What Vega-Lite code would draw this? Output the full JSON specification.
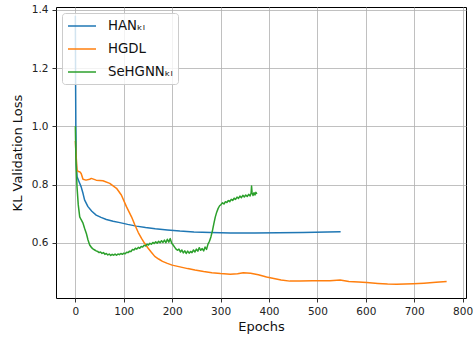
{
  "$schema": "https://vega.github.io/schema/vega-lite/v6.json",
  "width": 410,
  "height": 291,
  "autosize": {"type": "none"},
  "padding": {"left": 56, "top": 7, "right": 7, "bottom": 41},
  "config": {
    "font": "DejaVu Sans",
    "view": {"stroke": "#000000", "strokeWidth": 1},
    "axis": {
      "domain": false,
      "grid": true,
      "gridColor": "#b0b0b0",
      "gridWidth": 0.8,
      "tickColor": "#000000",
      "tickSize": 4,
      "tickWidth": 0.8,
      "labelColor": "#222222",
      "labelFontSize": 10.5,
      "labelPadding": 4,
      "titleColor": "#111111",
      "titleFontSize": 13,
      "titleFontWeight": "normal"
    },
    "legend": {
      "orient": "top-left",
      "offset": 6,
      "padding": 5,
      "fillColor": "rgba(255,255,255,0.8)",
      "strokeColor": "#cccccc",
      "cornerRadius": 3,
      "labelFontSize": 13.3,
      "labelColor": "#111111",
      "symbolType": "M-1,0H3",
      "symbolStrokeWidth": 1.5,
      "symbolSize": 196,
      "labelOffset": 25,
      "rowPadding": 8,
      "title": null
    }
  },
  "data": {
    "values": [
      {"series": "HAN_KL", "epoch": 0, "loss": 1.38},
      {"series": "HAN_KL", "epoch": 0.5, "loss": 1.15},
      {"series": "HAN_KL", "epoch": 1, "loss": 1.0},
      {"series": "HAN_KL", "epoch": 2, "loss": 0.87},
      {"series": "HAN_KL", "epoch": 3.4, "loss": 0.827},
      {"series": "HAN_KL", "epoch": 7, "loss": 0.812},
      {"series": "HAN_KL", "epoch": 12, "loss": 0.792},
      {"series": "HAN_KL", "epoch": 16, "loss": 0.768},
      {"series": "HAN_KL", "epoch": 19, "loss": 0.747},
      {"series": "HAN_KL", "epoch": 26, "loss": 0.724},
      {"series": "HAN_KL", "epoch": 34, "loss": 0.708},
      {"series": "HAN_KL", "epoch": 43, "loss": 0.695},
      {"series": "HAN_KL", "epoch": 53, "loss": 0.687},
      {"series": "HAN_KL", "epoch": 64, "loss": 0.68},
      {"series": "HAN_KL", "epoch": 78, "loss": 0.674},
      {"series": "HAN_KL", "epoch": 92, "loss": 0.669},
      {"series": "HAN_KL", "epoch": 108, "loss": 0.663},
      {"series": "HAN_KL", "epoch": 126, "loss": 0.657},
      {"series": "HAN_KL", "epoch": 145, "loss": 0.652},
      {"series": "HAN_KL", "epoch": 165, "loss": 0.648},
      {"series": "HAN_KL", "epoch": 190, "loss": 0.644},
      {"series": "HAN_KL", "epoch": 216, "loss": 0.640},
      {"series": "HAN_KL", "epoch": 245, "loss": 0.637},
      {"series": "HAN_KL", "epoch": 280, "loss": 0.635},
      {"series": "HAN_KL", "epoch": 320, "loss": 0.633},
      {"series": "HAN_KL", "epoch": 370, "loss": 0.633},
      {"series": "HAN_KL", "epoch": 420, "loss": 0.634},
      {"series": "HAN_KL", "epoch": 470, "loss": 0.635},
      {"series": "HAN_KL", "epoch": 520, "loss": 0.637},
      {"series": "HAN_KL", "epoch": 548, "loss": 0.638},

      {"series": "HGDL", "epoch": 0, "loss": 0.95},
      {"series": "HGDL", "epoch": 1.5, "loss": 0.9},
      {"series": "HGDL", "epoch": 3.4, "loss": 0.85},
      {"series": "HGDL", "epoch": 6, "loss": 0.845},
      {"series": "HGDL", "epoch": 9, "loss": 0.844},
      {"series": "HGDL", "epoch": 12, "loss": 0.838},
      {"series": "HGDL", "epoch": 15.8, "loss": 0.818},
      {"series": "HGDL", "epoch": 22, "loss": 0.815},
      {"series": "HGDL", "epoch": 29.6, "loss": 0.818},
      {"series": "HGDL", "epoch": 33, "loss": 0.821},
      {"series": "HGDL", "epoch": 43, "loss": 0.815},
      {"series": "HGDL", "epoch": 57, "loss": 0.813},
      {"series": "HGDL", "epoch": 71, "loss": 0.804},
      {"series": "HGDL", "epoch": 85, "loss": 0.787},
      {"series": "HGDL", "epoch": 95, "loss": 0.764},
      {"series": "HGDL", "epoch": 105.5, "loss": 0.724},
      {"series": "HGDL", "epoch": 116, "loss": 0.689},
      {"series": "HGDL", "epoch": 123, "loss": 0.661},
      {"series": "HGDL", "epoch": 130, "loss": 0.635},
      {"series": "HGDL", "epoch": 137, "loss": 0.614},
      {"series": "HGDL", "epoch": 143, "loss": 0.598},
      {"series": "HGDL", "epoch": 150, "loss": 0.582},
      {"series": "HGDL", "epoch": 157, "loss": 0.567},
      {"series": "HGDL", "epoch": 164, "loss": 0.553},
      {"series": "HGDL", "epoch": 172, "loss": 0.544},
      {"series": "HGDL", "epoch": 180, "loss": 0.536},
      {"series": "HGDL", "epoch": 190, "loss": 0.529},
      {"series": "HGDL", "epoch": 200, "loss": 0.523},
      {"series": "HGDL", "epoch": 216, "loss": 0.517},
      {"series": "HGDL", "epoch": 232, "loss": 0.511},
      {"series": "HGDL", "epoch": 247, "loss": 0.506},
      {"series": "HGDL", "epoch": 265, "loss": 0.501},
      {"series": "HGDL", "epoch": 282, "loss": 0.497},
      {"series": "HGDL", "epoch": 300, "loss": 0.494},
      {"series": "HGDL", "epoch": 320, "loss": 0.492},
      {"series": "HGDL", "epoch": 335, "loss": 0.493},
      {"series": "HGDL", "epoch": 347, "loss": 0.497},
      {"series": "HGDL", "epoch": 362, "loss": 0.495},
      {"series": "HGDL", "epoch": 378, "loss": 0.49},
      {"series": "HGDL", "epoch": 395, "loss": 0.482},
      {"series": "HGDL", "epoch": 410, "loss": 0.477},
      {"series": "HGDL", "epoch": 425, "loss": 0.472},
      {"series": "HGDL", "epoch": 443, "loss": 0.468},
      {"series": "HGDL", "epoch": 464, "loss": 0.468},
      {"series": "HGDL", "epoch": 490, "loss": 0.469},
      {"series": "HGDL", "epoch": 526, "loss": 0.469},
      {"series": "HGDL", "epoch": 547, "loss": 0.472},
      {"series": "HGDL", "epoch": 565, "loss": 0.467},
      {"series": "HGDL", "epoch": 585, "loss": 0.465},
      {"series": "HGDL", "epoch": 602, "loss": 0.463},
      {"series": "HGDL", "epoch": 625, "loss": 0.460},
      {"series": "HGDL", "epoch": 645, "loss": 0.458},
      {"series": "HGDL", "epoch": 664, "loss": 0.457},
      {"series": "HGDL", "epoch": 698, "loss": 0.459},
      {"series": "HGDL", "epoch": 720, "loss": 0.461},
      {"series": "HGDL", "epoch": 745, "loss": 0.464},
      {"series": "HGDL", "epoch": 767, "loss": 0.467},

      {"series": "SeHGNN_KL", "epoch": 0, "loss": 1.0},
      {"series": "SeHGNN_KL", "epoch": 0.5, "loss": 0.95},
      {"series": "SeHGNN_KL", "epoch": 1, "loss": 0.9},
      {"series": "SeHGNN_KL", "epoch": 2, "loss": 0.85},
      {"series": "SeHGNN_KL", "epoch": 3.4, "loss": 0.792},
      {"series": "SeHGNN_KL", "epoch": 6, "loss": 0.73},
      {"series": "SeHGNN_KL", "epoch": 9, "loss": 0.689},
      {"series": "SeHGNN_KL", "epoch": 12, "loss": 0.679},
      {"series": "SeHGNN_KL", "epoch": 15.8, "loss": 0.667},
      {"series": "SeHGNN_KL", "epoch": 19, "loss": 0.65},
      {"series": "SeHGNN_KL", "epoch": 22.7, "loss": 0.632},
      {"series": "SeHGNN_KL", "epoch": 26, "loss": 0.61},
      {"series": "SeHGNN_KL", "epoch": 29.6, "loss": 0.592},
      {"series": "SeHGNN_KL", "epoch": 34, "loss": 0.582},
      {"series": "SeHGNN_KL", "epoch": 37, "loss": 0.578},
      {"series": "SeHGNN_KL", "epoch": 40, "loss": 0.575},
      {"series": "SeHGNN_KL", "epoch": 43, "loss": 0.572},
      {"series": "SeHGNN_KL", "epoch": 46, "loss": 0.57},
      {"series": "SeHGNN_KL", "epoch": 49, "loss": 0.566},
      {"series": "SeHGNN_KL", "epoch": 52, "loss": 0.568},
      {"series": "SeHGNN_KL", "epoch": 55, "loss": 0.563},
      {"series": "SeHGNN_KL", "epoch": 58, "loss": 0.566},
      {"series": "SeHGNN_KL", "epoch": 61, "loss": 0.56},
      {"series": "SeHGNN_KL", "epoch": 64, "loss": 0.563},
      {"series": "SeHGNN_KL", "epoch": 67, "loss": 0.558},
      {"series": "SeHGNN_KL", "epoch": 70, "loss": 0.561},
      {"series": "SeHGNN_KL", "epoch": 73, "loss": 0.556},
      {"series": "SeHGNN_KL", "epoch": 76, "loss": 0.56},
      {"series": "SeHGNN_KL", "epoch": 79, "loss": 0.557},
      {"series": "SeHGNN_KL", "epoch": 82, "loss": 0.561},
      {"series": "SeHGNN_KL", "epoch": 85, "loss": 0.557},
      {"series": "SeHGNN_KL", "epoch": 88, "loss": 0.561},
      {"series": "SeHGNN_KL", "epoch": 91, "loss": 0.559},
      {"series": "SeHGNN_KL", "epoch": 94, "loss": 0.563},
      {"series": "SeHGNN_KL", "epoch": 97, "loss": 0.56},
      {"series": "SeHGNN_KL", "epoch": 100, "loss": 0.564},
      {"series": "SeHGNN_KL", "epoch": 103, "loss": 0.562},
      {"series": "SeHGNN_KL", "epoch": 106, "loss": 0.567},
      {"series": "SeHGNN_KL", "epoch": 109, "loss": 0.566},
      {"series": "SeHGNN_KL", "epoch": 112, "loss": 0.571},
      {"series": "SeHGNN_KL", "epoch": 115, "loss": 0.57},
      {"series": "SeHGNN_KL", "epoch": 118, "loss": 0.577},
      {"series": "SeHGNN_KL", "epoch": 121, "loss": 0.575},
      {"series": "SeHGNN_KL", "epoch": 124, "loss": 0.581},
      {"series": "SeHGNN_KL", "epoch": 127, "loss": 0.578},
      {"series": "SeHGNN_KL", "epoch": 130, "loss": 0.584},
      {"series": "SeHGNN_KL", "epoch": 133, "loss": 0.581},
      {"series": "SeHGNN_KL", "epoch": 136, "loss": 0.587},
      {"series": "SeHGNN_KL", "epoch": 139, "loss": 0.585},
      {"series": "SeHGNN_KL", "epoch": 142, "loss": 0.591},
      {"series": "SeHGNN_KL", "epoch": 145, "loss": 0.589},
      {"series": "SeHGNN_KL", "epoch": 148, "loss": 0.595},
      {"series": "SeHGNN_KL", "epoch": 151, "loss": 0.592},
      {"series": "SeHGNN_KL", "epoch": 154, "loss": 0.598},
      {"series": "SeHGNN_KL", "epoch": 157, "loss": 0.595},
      {"series": "SeHGNN_KL", "epoch": 160, "loss": 0.601},
      {"series": "SeHGNN_KL", "epoch": 163, "loss": 0.597},
      {"series": "SeHGNN_KL", "epoch": 166, "loss": 0.603},
      {"series": "SeHGNN_KL", "epoch": 169, "loss": 0.598},
      {"series": "SeHGNN_KL", "epoch": 172, "loss": 0.605},
      {"series": "SeHGNN_KL", "epoch": 175, "loss": 0.6},
      {"series": "SeHGNN_KL", "epoch": 178, "loss": 0.607},
      {"series": "SeHGNN_KL", "epoch": 181, "loss": 0.601},
      {"series": "SeHGNN_KL", "epoch": 184, "loss": 0.609},
      {"series": "SeHGNN_KL", "epoch": 187, "loss": 0.6},
      {"series": "SeHGNN_KL", "epoch": 190, "loss": 0.612},
      {"series": "SeHGNN_KL", "epoch": 193, "loss": 0.602},
      {"series": "SeHGNN_KL", "epoch": 196, "loss": 0.614},
      {"series": "SeHGNN_KL", "epoch": 199, "loss": 0.598},
      {"series": "SeHGNN_KL", "epoch": 202, "loss": 0.592},
      {"series": "SeHGNN_KL", "epoch": 205, "loss": 0.585},
      {"series": "SeHGNN_KL", "epoch": 208, "loss": 0.578},
      {"series": "SeHGNN_KL", "epoch": 211, "loss": 0.574},
      {"series": "SeHGNN_KL", "epoch": 214, "loss": 0.578},
      {"series": "SeHGNN_KL", "epoch": 217, "loss": 0.568},
      {"series": "SeHGNN_KL", "epoch": 220, "loss": 0.575},
      {"series": "SeHGNN_KL", "epoch": 223, "loss": 0.565},
      {"series": "SeHGNN_KL", "epoch": 226, "loss": 0.572},
      {"series": "SeHGNN_KL", "epoch": 229, "loss": 0.563},
      {"series": "SeHGNN_KL", "epoch": 232, "loss": 0.571},
      {"series": "SeHGNN_KL", "epoch": 235, "loss": 0.564},
      {"series": "SeHGNN_KL", "epoch": 238, "loss": 0.57},
      {"series": "SeHGNN_KL", "epoch": 241, "loss": 0.566},
      {"series": "SeHGNN_KL", "epoch": 244, "loss": 0.575},
      {"series": "SeHGNN_KL", "epoch": 247, "loss": 0.568},
      {"series": "SeHGNN_KL", "epoch": 250, "loss": 0.578},
      {"series": "SeHGNN_KL", "epoch": 253, "loss": 0.571},
      {"series": "SeHGNN_KL", "epoch": 256, "loss": 0.583},
      {"series": "SeHGNN_KL", "epoch": 259, "loss": 0.574},
      {"series": "SeHGNN_KL", "epoch": 262, "loss": 0.58},
      {"series": "SeHGNN_KL", "epoch": 265, "loss": 0.572},
      {"series": "SeHGNN_KL", "epoch": 268, "loss": 0.585},
      {"series": "SeHGNN_KL", "epoch": 271, "loss": 0.577},
      {"series": "SeHGNN_KL", "epoch": 274, "loss": 0.595},
      {"series": "SeHGNN_KL", "epoch": 277, "loss": 0.605},
      {"series": "SeHGNN_KL", "epoch": 280, "loss": 0.62},
      {"series": "SeHGNN_KL", "epoch": 283, "loss": 0.64},
      {"series": "SeHGNN_KL", "epoch": 286, "loss": 0.665},
      {"series": "SeHGNN_KL", "epoch": 289, "loss": 0.688},
      {"series": "SeHGNN_KL", "epoch": 292, "loss": 0.705},
      {"series": "SeHGNN_KL", "epoch": 295, "loss": 0.718},
      {"series": "SeHGNN_KL", "epoch": 298, "loss": 0.727},
      {"series": "SeHGNN_KL", "epoch": 301, "loss": 0.731},
      {"series": "SeHGNN_KL", "epoch": 304, "loss": 0.737},
      {"series": "SeHGNN_KL", "epoch": 307, "loss": 0.733},
      {"series": "SeHGNN_KL", "epoch": 310, "loss": 0.741},
      {"series": "SeHGNN_KL", "epoch": 313, "loss": 0.738},
      {"series": "SeHGNN_KL", "epoch": 316, "loss": 0.745},
      {"series": "SeHGNN_KL", "epoch": 319, "loss": 0.741},
      {"series": "SeHGNN_KL", "epoch": 322, "loss": 0.749},
      {"series": "SeHGNN_KL", "epoch": 325, "loss": 0.745},
      {"series": "SeHGNN_KL", "epoch": 328, "loss": 0.753},
      {"series": "SeHGNN_KL", "epoch": 331, "loss": 0.749},
      {"series": "SeHGNN_KL", "epoch": 334, "loss": 0.757},
      {"series": "SeHGNN_KL", "epoch": 337, "loss": 0.752},
      {"series": "SeHGNN_KL", "epoch": 340, "loss": 0.76},
      {"series": "SeHGNN_KL", "epoch": 343, "loss": 0.755},
      {"series": "SeHGNN_KL", "epoch": 346, "loss": 0.763},
      {"series": "SeHGNN_KL", "epoch": 349, "loss": 0.757},
      {"series": "SeHGNN_KL", "epoch": 352, "loss": 0.764},
      {"series": "SeHGNN_KL", "epoch": 355, "loss": 0.759},
      {"series": "SeHGNN_KL", "epoch": 358, "loss": 0.766},
      {"series": "SeHGNN_KL", "epoch": 361, "loss": 0.761},
      {"series": "SeHGNN_KL", "epoch": 363, "loss": 0.77},
      {"series": "SeHGNN_KL", "epoch": 364, "loss": 0.795},
      {"series": "SeHGNN_KL", "epoch": 365, "loss": 0.772},
      {"series": "SeHGNN_KL", "epoch": 367, "loss": 0.762},
      {"series": "SeHGNN_KL", "epoch": 369, "loss": 0.772},
      {"series": "SeHGNN_KL", "epoch": 371, "loss": 0.764},
      {"series": "SeHGNN_KL", "epoch": 373, "loss": 0.773},
      {"series": "SeHGNN_KL", "epoch": 375, "loss": 0.768}
    ]
  },
  "mark": {"type": "line", "strokeJoin": "round", "clip": true},
  "encoding": {
    "x": {
      "field": "epoch",
      "type": "quantitative",
      "scale": {"domain": [-40, 807], "nice": false, "zero": false},
      "axis": {"title": "Epochs", "values": [0, 100, 200, 300, 400, 500, 600, 700, 800], "format": "d", "titlePadding": 4, "labelFlush": false}
    },
    "y": {
      "field": "loss",
      "type": "quantitative",
      "scale": {"domain": [0.41, 1.41], "nice": false, "zero": false},
      "axis": {"title": "KL Validation Loss", "values": [0.6, 0.8, 1.0, 1.2, 1.4], "format": ".1f", "titlePadding": 7, "labelFlush": false}
    },
    "color": {
      "field": "series",
      "type": "nominal",
      "scale": {"domain": ["HAN_KL", "HGDL", "SeHGNN_KL"], "range": ["#1f77b4", "#ff7f0e", "#2ca02c"]},
      "legend": {"labelExpr": "datum.label == 'HAN_KL' ? 'HANₖₗ' : datum.label == 'SeHGNN_KL' ? 'SeHGNNₖₗ' : datum.label"}
    },
    "strokeWidth": {
      "field": "series",
      "type": "nominal",
      "scale": {"domain": ["HAN_KL", "HGDL", "SeHGNN_KL"], "range": [1.5, 1.5, 2.4]},
      "legend": null
    },
    "order": {"field": "epoch", "type": "quantitative"}
  }
}
